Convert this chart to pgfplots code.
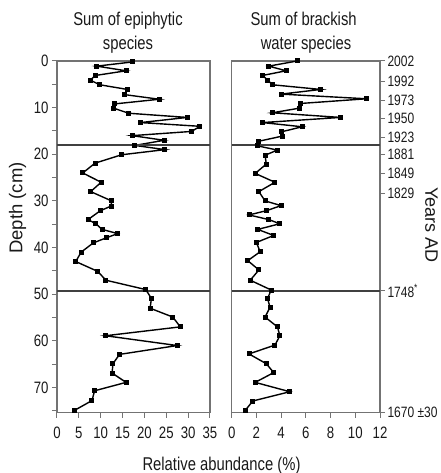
\documentclass[border=0pt]{standalone}
\usepackage{fontspec}
\setmainfont{Liberation Sans}[FakeStretch=0.8]
\newfontfamily\rotfont{Liberation Sans}
\usepackage{pgfplots}
\pgfplotsset{compat=1.18}
\definecolor{axgray}{gray}{0.45}

% epiphytic: value (%) vs depth (cm)
\pgfplotstableread{
v d
17.3 0.2
9.1 1.1
15.8 2.1
8.8 3.1
7.6 4.1
9.8 5.1
16.1 6.1
15.4 7.2
23.4 8.2
13.2 9.2
12.9 10.1
16.4 11.2
29.8 12.1
19.1 13.2
32.7 14.0
30.8 15.1
17.2 16.0
24.5 17.0
17.8 18.1
24.7 19.0
14.8 20.1
8.7 21.9
5.9 24.0
10.1 26.0
7.7 28.0
12.5 30.0
12.4 31.1
9.9 32.1
7.1 34.0
8.9 34.9
10.3 36.1
13.9 37.0
11.3 37.9
8.3 39.0
5.5 41.0
4.3 43.0
9.3 45.1
11.2 47.0
20.3 49.0
21.6 50.9
21.3 53.0
26.5 54.9
28.2 57.0
11.1 58.9
27.5 61.0
14.3 62.9
12.8 64.9
12.6 66.9
15.8 68.9
8.6 70.7
8.0 72.8
4.0 74.9
}\epiph

% brackish: value (%) vs depth (cm)
\pgfplotstableread{
v d
5.3 0.0
3.0 1.1
4.4 2.1
2.5 3.1
2.9 4.1
3.3 5.1
7.2 6.1
4.0 7.1
10.9 8.1
5.6 9.1
5.5 10.1
3.3 11.1
8.8 12.1
2.5 13.2
5.7 14.1
4.0 15.2
4.1 16.1
2.2 17.2
2.1 18.2
3.7 19.1
2.7 20.2
2.8 22.1
1.9 24.1
3.5 26.0
2.2 28.0
2.7 30.0
4.0 31.0
2.8 32.1
1.4 33.0
3.0 34.0
3.9 34.9
2.1 36.1
3.4 37.4
2.0 38.9
2.3 40.9
1.3 42.8
2.2 44.8
1.5 47.0
3.2 49.1
2.9 50.9
3.1 52.8
2.7 54.9
3.7 57.0
3.9 58.9
3.5 60.9
1.4 62.8
2.8 64.9
3.4 66.8
1.9 68.9
4.7 70.9
1.7 72.9
1.1 74.9
}\brack

\pgfplotsset{core/.style={
  scale only axis, height=351.7pt, y dir=reverse, ymin=0, ymax=75.4,
  axis line style={axgray, line width=1.2pt},
  tick style={axgray, line width=1pt},
  tick align=outside, major tick length=5pt, minor tick length=5pt,
  tick label style={font=\fontsize{16.5}{17}\selectfont, text=black!90},
  /pgf/number format/assume math mode=true,
  xtick pos=bottom,
  xticklabel style={yshift=-6pt},
}}
\pgfplotsset{series/.style={black, line width=1.4pt, mark=square*, mark size=1.8pt}}

\begin{document}
\begin{tikzpicture}
\useasboundingbox (-57pt,-60.3pt) rectangle (383pt,412.7pt);

\begin{axis}[core, at={(0pt,0pt)}, anchor=south west, width=153pt,
  xmin=0, xmax=35, xtick={0,5,...,35},
  ytick={0,10,...,70}, minor ytick={5,15,...,75}, ytick pos=left]
\addplot[series] table[x=v, y=d] {\epiph};
\draw[black!75, line width=1.5pt] (axis cs:0,18.0) -- (axis cs:35,18.0);
\draw[black!75, line width=1.5pt] (axis cs:0,49.3) -- (axis cs:35,49.3);
\end{axis}

\begin{axis}[core, at={(174.7pt,0pt)}, anchor=south west, width=148.3pt,
  xmin=0, xmax=12, xtick={0,2,...,12},
  ytick pos=right,
  yticklabel style={font=\fontsize{15}{16}\selectfont, xshift=-1pt},
  ytick={0,4.3,8.4,12.3,16.3,20.0,24.1,28.3,49.3,75.4},
  yticklabels={2002,1992,1973,1950,1923,1881,1849,1829,1748\textsuperscript{*},1670 ±30}]
\addplot[series] table[x=v, y=d] {\brack};
\draw[black!75, line width=1.5pt] (axis cs:0,18.0) -- (axis cs:12,18.0);
\draw[black!75, line width=1.5pt] (axis cs:0,49.3) -- (axis cs:12,49.3);
\end{axis}

\begin{scope}[every node/.style={font=\fontsize{18.5}{20}\selectfont, text=black!90}]
\node[anchor=base] at (71pt,386.7pt) {Sum of epiphytic};
\node[anchor=base] at (71pt,362.7pt) {species};
\node[anchor=base] at (246.6pt,386.7pt) {Sum of brackish};
\node[anchor=base] at (249pt,362.7pt) {water species};
\node[anchor=base] at (164.5pt,-57.3pt) {Relative abundance (\%)};
\node[rotate=90, font=\rotfont\fontsize{18.5}{20}\selectfont] at (-39.5pt,204.7pt) {Depth (cm)};
\node[rotate=-90, font=\rotfont\fontsize{18}{20}\selectfont] at (374.5pt,187.7pt) {Years AD};
\end{scope}
\end{tikzpicture}
\end{document}
